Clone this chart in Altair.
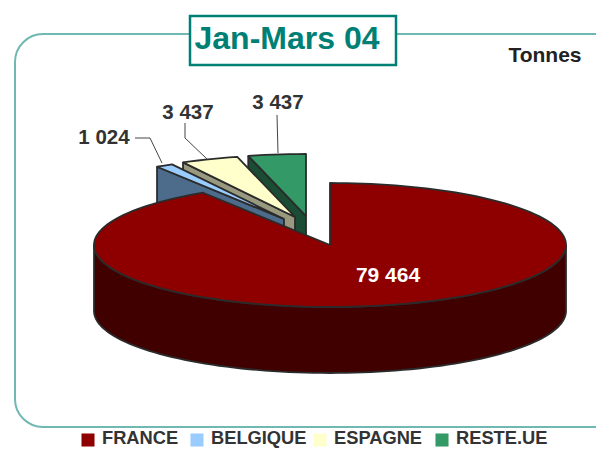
import math
import altair as alt
import pandas as pd

categories = ["FRANCE", "BELGIQUE", "ESPAGNE", "RESTE.UE"]
values = [79464, 1024, 3437, 3437]
value_labels = ["79 464", "1 024", "3 437", "3 437"]
top_colors = ["#8e0000", "#99ccff", "#ffffcc", "#339966"]
cut_colors = ["#400000", "#4d6b8a", "#999980", "#1a4d33"]
title_text = "Jan-Mars 04"
unit_text = "Tonnes"

# layout
W, H = 588, 441
CX, CY, RX, RY, DEPTH = 330, 245, 236, 62, 66
explode = {"BELGIQUE": (-46, -26), "ESPAGNE": (-35, -28), "RESTE.UE": (-24, -29), "FRANCE": (0, 0)}
INK = "#2b2b2b"
TEAL = "#008075"
FRAME = "#70b8b4"

X = alt.X("x:Q", axis=None, scale=alt.Scale(domain=[8, 8 + W], range=[0, W]))
Y = alt.Y("y:Q", axis=None, scale=alt.Scale(domain=[8, 8 + H], range=[0, H]))


def ell(a, cx=CX, cy=CY, dz=0):
    r = math.radians(a)
    return (cx + RX * math.sin(r), cy - RY * math.cos(r) + dz)


def poly(points, fill, sw=1.8):
    df = pd.DataFrame({"x": [p[0] for p in points], "y": [p[1] for p in points], "i": range(len(points))})
    return alt.Chart(df).mark_line(fill=fill, stroke=INK, strokeWidth=sw, strokeJoin="round", clip=False).encode(
        x=X, y=Y, order="i:Q"
    )


total = sum(values)
spans = {}
acc = 0.0
for c, v in zip(categories, values):
    spans[c] = (acc, acc + v / total * 360)
    acc += v / total * 360


def arc_points(a0, a1, cx, cy, dz=0):
    n = max(2, int(abs(a1 - a0) / 2))
    return [ell(a0 + (a1 - a0) * k / n, cx, cy, dz) for k in range(n + 1)]


layers = []

# frame
layers.append(
    alt.Chart(pd.DataFrame({"a": [0]})).mark_rect(
        fill="white", stroke=FRAME, strokeWidth=2, cornerRadius=28, clip=True
    ).encode(x=alt.value(15 - 8), x2=alt.value(632 - 8), y=alt.value(34 - 8), y2=alt.value(427 - 8))
)

# exploded slices: back to front
for c in ["RESTE.UE", "ESPAGNE", "BELGIQUE"]:
    i = categories.index(c)
    dx, dy = explode[c]
    cx, cy = CX + dx, CY + dy
    a0, a1 = spans[c]
    p0 = ell(a0, cx, cy)
    layers.append(poly([p0, (cx, cy), (cx, cy + DEPTH), (p0[0], p0[1] + DEPTH), p0], cut_colors[i]))
    layers.append(poly([(cx, cy)] + arc_points(a0, a1, cx, cy) + [(cx, cy)], top_colors[i]))

# France wall and top
a0, a1 = spans["FRANCE"]
wall_top = arc_points(90, 270, CX, CY)
wall_bot = arc_points(270, 90, CX, CY, DEPTH)
layers.append(poly(wall_top + wall_bot + [wall_top[0]], cut_colors[0]))
layers.append(poly([(CX, CY)] + arc_points(a0, a1, CX, CY) + [(CX, CY)], top_colors[0]))

# leader lines
leader_a = [(135, 138), (150, 138), (162, 163)]
leader_b = [(185, 123), (185, 138), (207, 159)]
leader_c = [(277, 115), (278, 153)]
for pts in (leader_a, leader_b, leader_c):
    df = pd.DataFrame({"x": [p[0] for p in pts], "y": [p[1] for p in pts], "i": range(len(pts))})
    layers.append(alt.Chart(df).mark_line(stroke="#444444", strokeWidth=1).encode(x=X, y=Y, order="i:Q"))


def text(df, **kw):
    base = dict(font="Liberation Sans", fontWeight="bold", baseline="middle")
    base.update(kw)
    return alt.Chart(df).mark_text(**base).encode(x=X, y=Y, text="t:N")


# data labels
lab_x = [388, 104, 188, 278]
lab_y = [276, 138, 113, 103]
lab_col = ["white", "#333333", "#333333", "#333333"]
lab_size = [21, 20.5, 20.5, 20.5]
for t, x, y, col, s in zip(value_labels, lab_x, lab_y, lab_col, lab_size):
    layers.append(text(pd.DataFrame({"x": [x], "y": [y], "t": [t]}), fontSize=s, color=col, align="center"))

layers.append(text(pd.DataFrame({"x": [545], "y": [56], "t": [unit_text]}), fontSize=21, color="#222222", align="center"))

# title box
layers.append(
    alt.Chart(pd.DataFrame({"a": [0]})).mark_rect(fill="white", stroke=TEAL, strokeWidth=2.5).encode(
        x=alt.value(190 - 8), x2=alt.value(396 - 8), y=alt.value(16 - 8), y2=alt.value(65 - 8)
    )
)
layers.append(text(pd.DataFrame({"x": [287], "y": [39], "t": [title_text]}), fontSize=32, color=TEAL, align="center"))

# legend
leg_x = [88, 197, 320, 442]
leg_text_x = [102, 211, 334, 456]
LEG_Y = 439
for c, x, tx in zip(categories, leg_x, leg_text_x):
    i = categories.index(c)
    layers.append(
        alt.Chart(pd.DataFrame({"x": [x], "y": [LEG_Y + 1]})).mark_square(size=170, color=top_colors[i], opacity=1).encode(x=X, y=Y)
    )
    layers.append(text(pd.DataFrame({"x": [tx], "y": [LEG_Y], "t": [c]}), fontSize=18.3, color="#333333", align="left"))

chart = alt.layer(*layers).properties(
    width=W, height=H, padding=0, autosize=alt.AutoSizeParams(type="none"), background="white"
).configure_view(stroke=None)

chart.save("out.html", embed_options={"renderer": "svg", "actions": False})
